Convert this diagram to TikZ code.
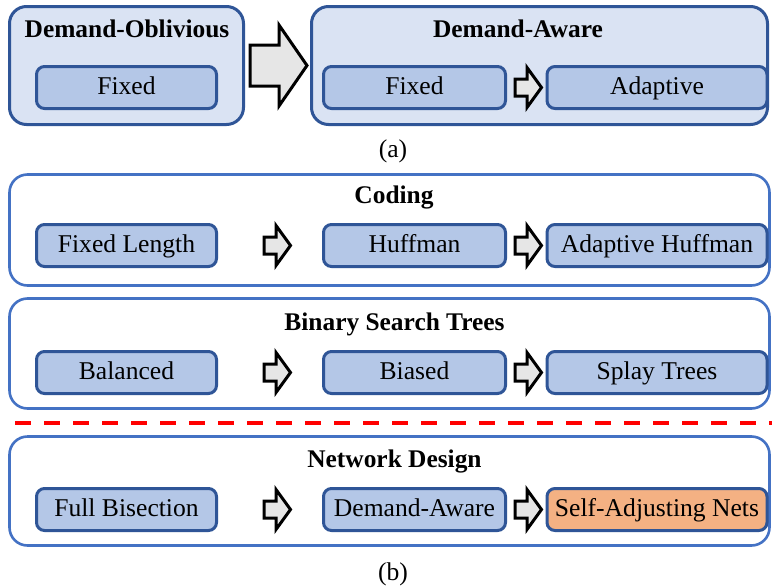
\documentclass[tikz,border=0pt]{standalone}
\usepackage{fontspec}
\setmainfont{Liberation Serif}
\definecolor{darkblue}{HTML}{2F5597}
\definecolor{midblue}{HTML}{4472C4}
\definecolor{paleblue}{HTML}{DAE3F3}
\definecolor{lightblue}{HTML}{B4C7E7}
\definecolor{orangefill}{HTML}{F4B183}
\definecolor{arrowgray}{HTML}{E6E6E6}
\begin{document}
\begin{tikzpicture}[x=1pt,y=-1pt,
  font=\fontsize{25.6}{30}\selectfont,
  groupA/.style={draw=darkblue, fill=paleblue, line width=3pt, rounded corners=17pt, inner sep=0pt},
  groupB/.style={draw=midblue, fill=white, line width=2.6pt, rounded corners=18pt, inner sep=0pt},
  itembox/.style={draw=darkblue, fill=lightblue, line width=3pt, rounded corners=8pt,
    minimum height=42pt, inner sep=0pt, text height=18pt, text depth=5pt},
  hot/.style={fill=orangefill},
  title/.style={font=\fontsize{25.4}{30}\selectfont\bfseries, anchor=base, inner sep=0pt},
  caption/.style={anchor=base, inner sep=0pt},
  arrowline/.style={draw=black, fill=arrowgray, line width=3pt, line join=miter, miter limit=10},
  fatarrow/.pic={\path[arrowline] (-13,-8.5) -- (-1,-8.5) -- (-1,-20) -- (13.5,0) -- (-1,20) -- (-1,8.5) -- (-13,8.5) -- cycle;}
]
\useasboundingbox (0,0) rectangle (772,587);

% ---------- (a) ----------
\node[groupA, minimum width=234pt, minimum height=118pt] (obl) at (126.5,65.5) {};
\node[groupA, minimum width=456pt, minimum height=118pt] (awr) at (539.5,65.5) {};
\node[title] (oblT) at (127,37) {Demand-Oblivious};
\node[title] (awrT) at (518,37) {Demand-Aware};
\node[itembox, minimum width=180pt] (aFix1) at (126.5,87.5) {Fixed};
\node[itembox, minimum width=182pt] (aFix2) at (414.5,87.5) {Fixed};
\node[itembox, minimum width=220pt] (aAdp) at (657,87.5) {Adaptive};
\path[arrowline] (250,45) -- (279,45) -- (279,25) -- (307,65.5) -- (279,106) -- (279,86) -- (250,86) -- cycle;
\pic at (528,87.5) {fatarrow};
\node[caption] (capA) at (393,157) {(a)};

% ---------- (b) ----------
\node[groupB, minimum width=760pt, minimum height=111pt] (cod) at (389.5,230) {};
\node[title] (codT) at (394,203) {Coding};
\node[itembox, minimum width=180pt] (c1) at (126.5,245.5) {Fixed Length};
\node[itembox, minimum width=182pt] (c2) at (414.5,245.5) {Huffman};
\node[itembox, minimum width=220pt] (c3) at (657,245.5) {Adaptive Huffman};
\pic at (277,245.5) {fatarrow};
\pic at (528,245.5) {fatarrow};

\node[groupB, minimum width=760pt, minimum height=110pt] (bst) at (389.5,353.5) {};
\node[title] (bstT) at (394.5,330) {Binary Search Trees};
\node[itembox, minimum width=180pt] (b1) at (126.5,372.5) {Balanced};
\node[itembox, minimum width=182pt] (b2) at (414.5,372.5) {Biased};
\node[itembox, minimum width=220pt] (b3) at (657,372.5) {Splay Trees};
\pic at (277,372.5) {fatarrow};
\pic at (528,372.5) {fatarrow};

\coordinate (sepL) at (15,422.5);
\coordinate (sepR) at (772,422.5);
\draw[red, line width=4pt, dash pattern=on 16pt off 13pt] (sepL) -- (sepR);

\node[groupB, minimum width=760pt, minimum height=109pt] (net) at (389.5,491) {};
\node[title] (netT) at (394.5,467) {Network Design};
\node[itembox, minimum width=180pt] (n1) at (126.5,509.5) {Full Bisection};
\node[itembox, minimum width=182pt] (n2) at (414.5,509.5) {Demand-Aware};
\node[itembox, hot, minimum width=220pt] (n3) at (657,509.5) {Self-Adjusting Nets};
\pic at (277,509.5) {fatarrow};
\pic at (528,509.5) {fatarrow};
\node[caption] (capB) at (393,580) {(b)};
\end{tikzpicture}
\end{document}
